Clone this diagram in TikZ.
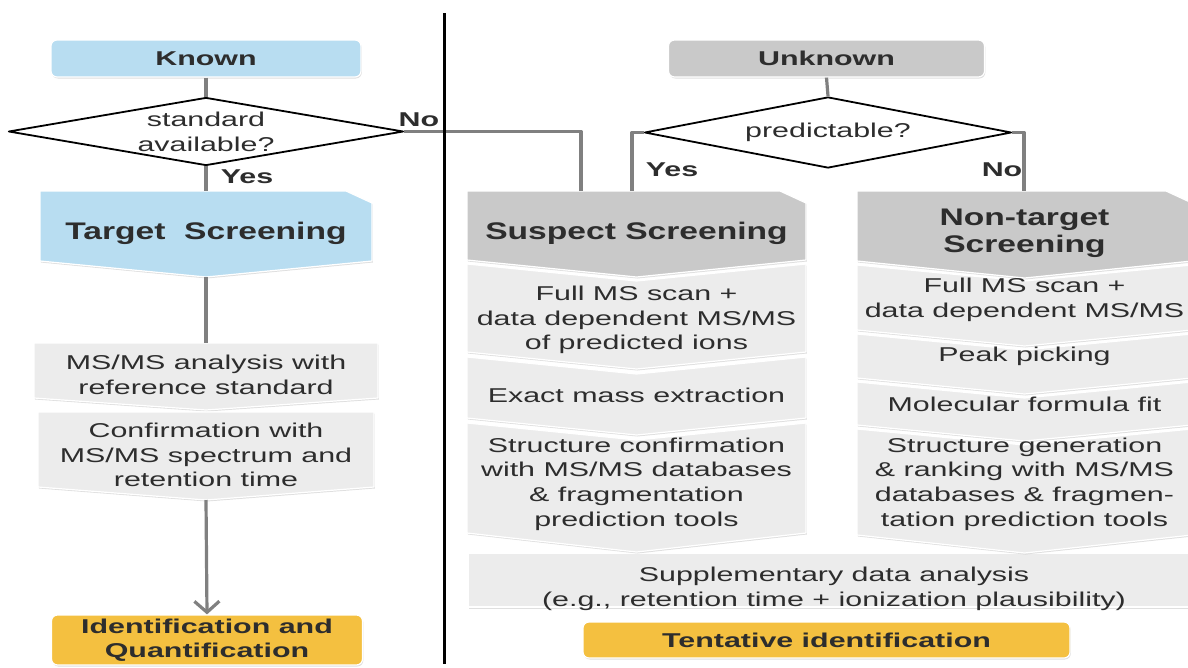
\documentclass[tikz,border=0pt]{standalone}
\usepackage{fontspec}
\setmainfont{Liberation Sans}[FakeStretch=1.52]
\newfontfamily\headfont{Liberation Sans}[FakeStretch=1.4]
\usetikzlibrary{arrows.meta,shapes.geometric,shadows}

\definecolor{knownblue}{RGB}{184,221,241}
\definecolor{headgray}{RGB}{201,201,201}
\definecolor{bodygray}{RGB}{236,236,236}
\definecolor{idgold}{RGB}{244,192,64}
\definecolor{linegray}{RGB}{128,128,128}
\definecolor{inkgray}{RGB}{45,45,45}

\tikzset{
  panel/.style={draw=white, line width=1.2pt,
    drop shadow={shadow xshift=0.8pt, shadow yshift=-1.5pt, opacity=0.25}},
  tag/.style={rectangle, rounded corners=6pt, panel, align=center,
    font=\bfseries\fontsize{20}{24}\selectfont, text=inkgray},
  txt/.style={align=center, inner sep=0pt, text=inkgray,
    font=\fontsize{20}{24.7}\selectfont},
  htxt/.style={align=center, inner sep=0pt, text=inkgray,
    font=\headfont\bfseries\fontsize{24}{27}\selectfont},
  ask/.style={diamond, draw=black, line width=1.8pt, fill=white, inner sep=0pt,
    align=center, text=inkgray, font=\fontsize{20}{24.7}\selectfont},
  yesno/.style={inner sep=0pt, text=inkgray, font=\bfseries\fontsize{20}{24}\selectfont},
  conn/.style={draw=linegray, line width=3.2pt}
}

% chevron box: fill, left x, right x, top, notch, bottom, tip
\newcommand{\chevbox}[7]{%
  \filldraw[panel, fill=#1] (#2,#4) -- ({(#2+#3)/2},{#4+#5}) -- (#3,#4)
    -- (#3,#6) -- ({(#2+#3)/2},{#6+#7}) -- (#2,#6) -- cycle;}
% header box with cut corner: fill, left x, right x, top, bottom, tip
\newcommand{\headbox}[6]{%
  \filldraw[panel, fill=#1] (#2,#4) -- ({#3-26},#4) -- (#3,{#4+12})
    -- (#3,#5) -- ({(#2+#3)/2},{#5+#6}) -- (#2,#5) -- cycle;}

\begin{document}
\begin{tikzpicture}[x=1pt, y=-1pt, line join=round]
\useasboundingbox (0,0) rectangle (1188,667);

% known side
\node[tag, fill=knownblue, minimum width=310, minimum height=37] (known) at (206,58.5) {Known};
\node[ask, aspect=5.9, minimum width=395, minimum height=68] (std) at (206,131.5) {standard\\available?};

\headbox{knownblue}{40}{372}{191}{261}{16}
\node[htxt] (target) at (206,233) {Target\ \ Screening};
\coordinate (target-in) at (206,191);
\coordinate (target-out) at (206,277);

\chevbox{bodygray}{34}{378}{343}{0}{398}{12}
\node[txt] (msms) at (206,375) {MS/MS analysis with\\reference standard};
\coordinate (msms-in) at (206,343);
\chevbox{bodygray}{38}{374}{412}{0}{487}{13}
\node[txt] (confirm) at (206,455) {Confirmation with\\MS/MS spectrum and\\retention time};
\coordinate (confirm-out) at (206,500);

\node[tag, fill=idgold, minimum width=311, minimum height=50] (ident) at (207,640) {Identification and\\Quantification};

% unknown side
\node[tag, fill=headgray, minimum width=316, minimum height=37] (unknown) at (826.5,58.5) {Unknown};
\node[ask, aspect=5.2, minimum width=367, minimum height=71] (pred) at (828,132.5) {predictable?};

\filldraw[panel, fill=bodygray] (468,553) rectangle (1192,607);
\node[txt] (supp) at (834,589) {Supplementary data analysis\\(e.g., retention time + ionization plausibility)};

\headbox{headgray}{467}{806}{191}{260}{17}
\node[htxt] (suspect) at (636.5,233) {Suspect Screening};
\coordinate (suspect-no) at (581,191);
\coordinate (suspect-yes) at (632,191);
\chevbox{bodygray}{467}{806}{264}{17}{352}{17}
\node[txt] (fullA) at (636.5,320) {Full MS scan +\\data dependent MS/MS\\of predicted ions};
\chevbox{bodygray}{467}{806}{357}{17}{418}{17}
\node[txt] (exact) at (636.5,395) {Exact mass extraction};
\chevbox{bodygray}{467}{806}{423}{17}{533}{19}
\node[txt] (structA) at (636.5,484) {Structure confirmation\\with MS/MS databases\\\& fragmentation\\prediction tools};

\headbox{headgray}{857}{1192}{191}{261}{17}
\node[htxt] (nontarget) at (1024.5,233.5) {Non-target\\Screening};
\coordinate (nontarget-in) at (1024,191);
\chevbox{bodygray}{857}{1192}{265}{16}{330}{16}
\node[txt] (fullB) at (1024.5,300) {Full MS scan +\\data dependent MS/MS};
\chevbox{bodygray}{857}{1192}{334}{16}{378}{16}
\node[txt] (peak) at (1024.5,356) {Peak picking};
\chevbox{bodygray}{857}{1192}{382}{16}{425}{16}
\node[txt] (molec) at (1024.5,404) {Molecular formula fit};
\chevbox{bodygray}{857}{1192}{429}{16}{535}{18}
\node[txt] (structB) at (1024.5,484) {Structure generation\\\& ranking with MS/MS\\databases \& fragmen-\\tation prediction tools};

\node[tag, fill=idgold, minimum width=487, minimum height=36] (tentative) at (826.5,640) {Tentative identification};

% connectors
\draw[conn] (known.south) -- (std.north);
\draw[conn] (std.south) -- (target-in);
\draw[conn] (std.east) -| (suspect-no);
\draw[conn] (target-out) -- (msms-in);
\draw[conn, -{Straight Barb[length=11pt, width=25pt]}] (confirm-out) -- (ident.north);
\draw[conn] (unknown.south) -- (pred.north);
\draw[conn] (pred.west) -| (suspect-yes);
\draw[conn] (pred.east) -| (nontarget-in);

\node[yesno] (no-std) at (419,120) {No};
\node[yesno] (yes-std) at (247,177) {Yes};
\node[yesno] (yes-pred) at (672,170) {Yes};
\node[yesno] (no-pred) at (1002,170) {No};

% divider
\coordinate (div-top) at (444,13);
\coordinate (div-bot) at (444,664);
\draw[line width=3pt] (div-top) -- (div-bot);
\end{tikzpicture}
\end{document}
